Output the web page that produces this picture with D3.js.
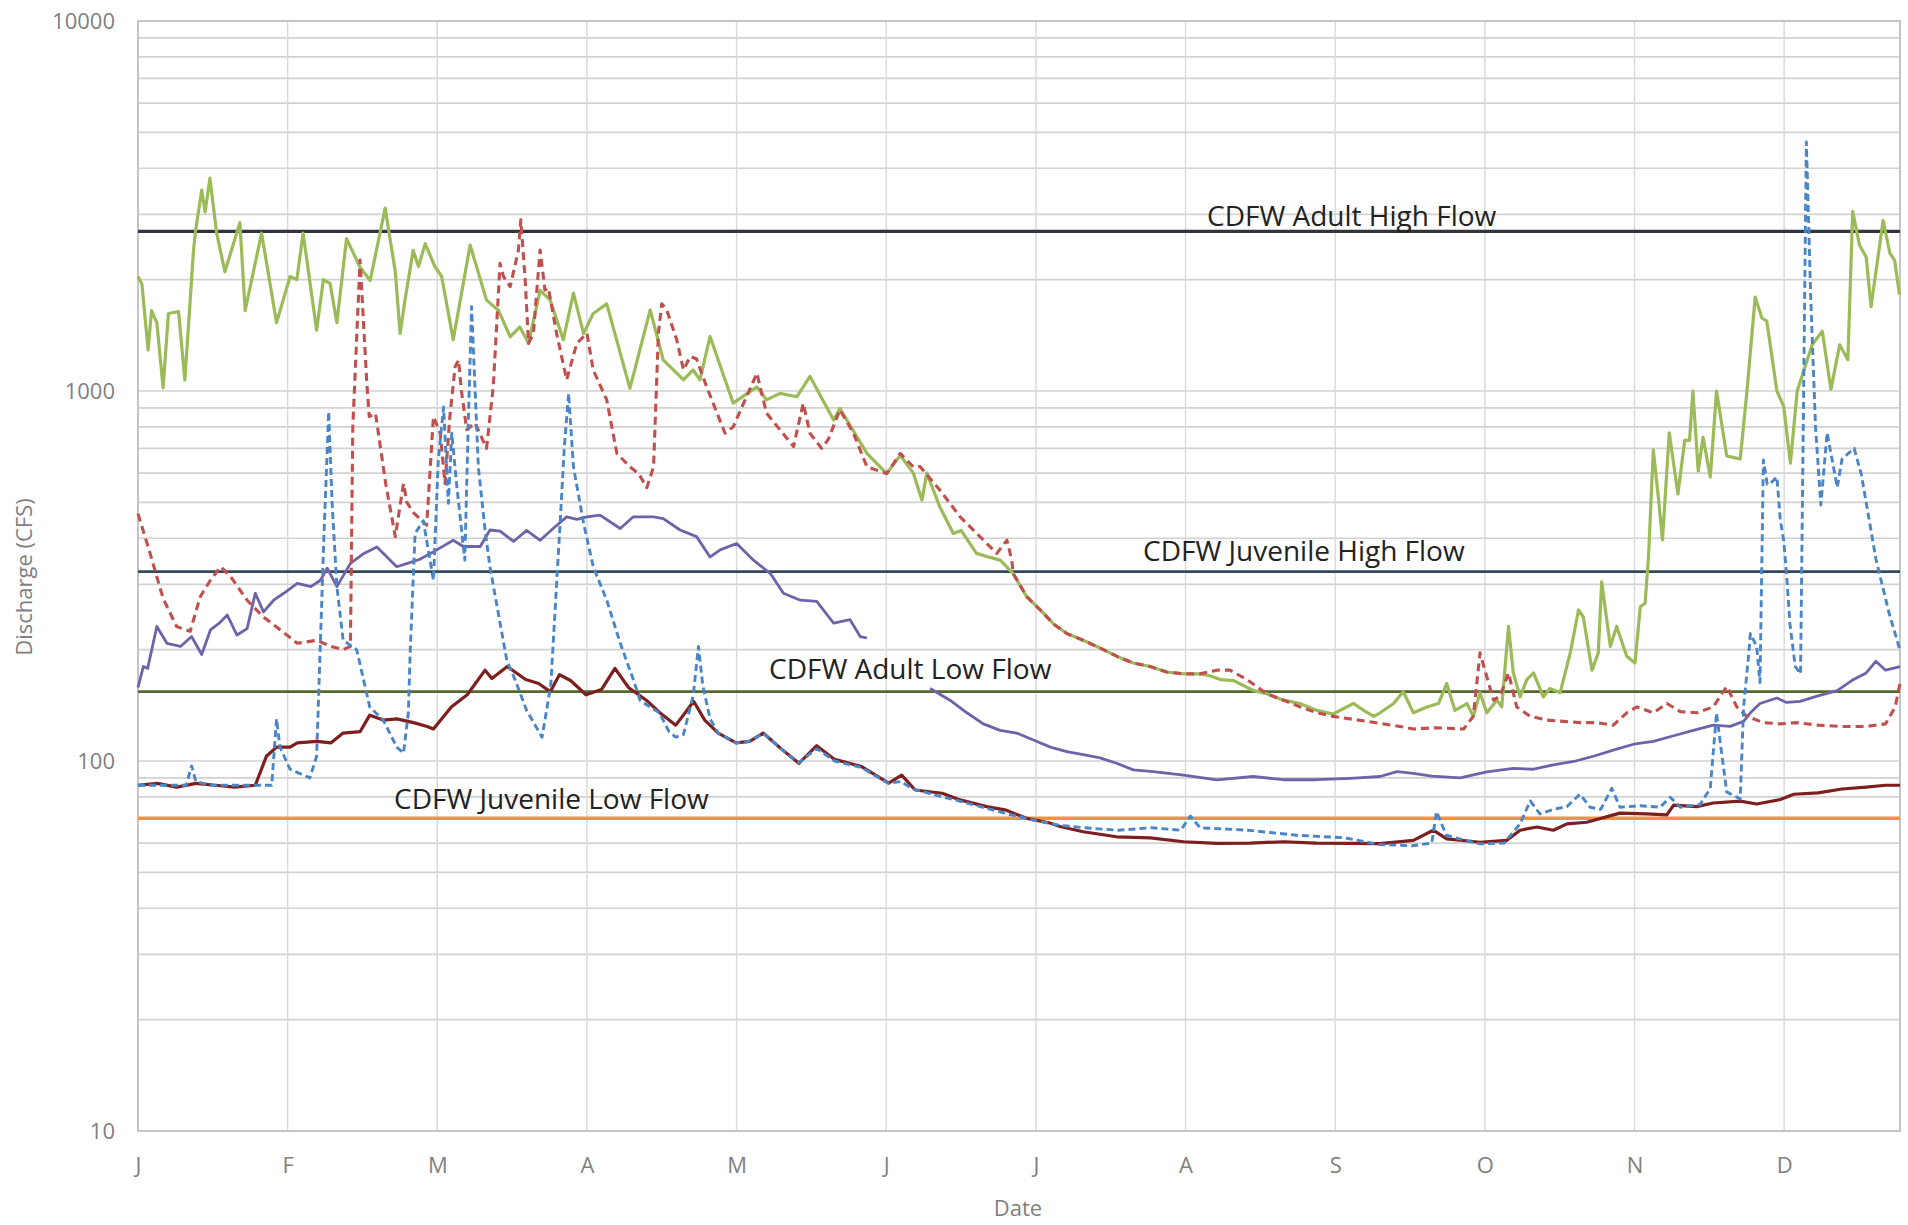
<!DOCTYPE html>
<html>
<head>
<meta charset="utf-8">
<script src="https://cdn.jsdelivr.net/npm/d3@7"></script>
<style>
    body { margin: 0; background: #ffffff; }
    .axis text { font-family: "Open Sans", sans-serif; font-size: 22px; fill: #7f7f7f; }
    .axis .domain { display: none; }
    .title { font-family: "Open Sans", sans-serif; font-size: 22px; fill: #7f7f7f; }
    .flow-label { font-family: "Open Sans", sans-serif; font-size: 28px; fill: #222222; }
</style>
</head>
<body>
<svg id="chart"></svg>
<script>
// month ticks every 31 days, day 0 = Jan 1
var monthLabels = ["J", "F", "M", "A", "M", "J", "J", "A", "S", "O", "N", "D"];
var monthTicks = [0, 31, 62, 93, 124, 155, 186, 217, 248, 279, 310, 341];
var yTickValues = [10, 100, 1000, 10000];

var thresholdNames = ["CDFW Adult High Flow", "CDFW Juvenile High Flow", "CDFW Adult Low Flow", "CDFW Juvenile Low Flow"];
var thresholdFlows = [2700, 325, 154, 70];

// [day, cfs]
var greenFlow = [[0,2040],[0.8,1950],[2.1,1290],[2.8,1650],[3.9,1530],[5.2,1020],[6.3,1620],[8.4,1640],[9.7,1070],
    [11.5,2400],[11.9,2700],[13.2,3490],[13.9,3050],[14.9,3760],[16.3,2670],[18,2100],[21.1,2850],[22.2,1650],
    [25.6,2670],[28.7,1530],[31.5,2040],[32.9,2000],[34.2,2670],[37,1460],[38.4,2000],[39.8,1950],[41.2,1530],
    [43.2,2580],[46,2160],[48.1,1990],[51.2,3120],[53.3,2100],[54.3,1430],[55.3,1760],[57,2400],[58.1,2170],
    [59.5,2500],[61.5,2170],[62.9,2040],[65.3,1375],[68.8,2480],[72.2,1760],[74.7,1650],[77.1,1400],[79.1,1490],
    [80.9,1345],[83.3,1870],[85.4,1760],[88.1,1375],[90.2,1840],[92.3,1430],[94.3,1620],[97.1,1720],[101.9,1016],
    [106.1,1656],[108.8,1213],[113,1072],[115,1140],[116.4,1072],[118.5,1403],[123.3,927],[128.2,1026],[130.2,946],
    [133,985],[136.5,965],[139.2,1095],[144.1,835],[145.4,897],[151,678],[155.1,598],[157.9,670],[160.6,600],
    [162.4,507],[163.4,600],[166.1,486],[168.9,412],[170.5,420],[173.7,364],[176.5,355],[178.6,349],[181.3,321],
    [184.1,278],[186.9,256],[189.6,235],[192.4,221],[195.8,212],[199.3,202],[202.7,192],[206.2,184],[209.7,180],
    [213.1,174],[216.6,172],[220,172],[222,170],[224.2,166],[226.9,165],[231.1,155],[233.8,152],[237.3,146],
    [240.7,143],[244.2,137],[247.6,134],[250.4,140],[251.8,143],[253.9,137],[256,132],[257.3,135],[260.1,143],
    [262.1,154],[264.2,135],[267,140],[269.4,143],[271.1,162],[272.8,137],[275.3,143],[276.6,132],[278,153],
    [279.4,135],[281.5,146],[282.5,140],[283.9,231],[284.9,173],[286.3,149],[287.7,166],[289.1,173],[291.1,149],
    [292.5,157],[294.6,153],[296.7,196],[298.4,256],[299.4,245],[301.2,176],[302.5,196],[303.2,305],[305,204],
    [306.3,231],[308.4,192],[310.1,184],[311.2,261],[312.2,267],[312.9,356],[313.9,693],[315,507],[315.8,396],
    [317.2,771],[319,527],[320.4,735],[321.4,735],[322.1,1000],[323.2,608],[324.2,750],[325.7,585],[327,1000],
    [329.1,668],[331.9,655],[333.3,1000],[335,1795],[336.4,1575],[337.4,1545],[339.5,1000],[340.9,910],[342.3,638],
    [343.7,1000],[346.8,1333],[348.9,1450],[350.7,1010],[352.5,1333],[354.2,1215],[355.2,3060],[356.6,2480],
    [358,2300],[359,1690],[361.5,2890],[362.9,2360],[363.9,2250],[364.9,1820]];

var redFlow = [[0,466],[2.5,364],[5.2,275],[8,231],[10.8,224],[12.9,278],[15,308],[17.1,335],[19.2,315],[22.6,272],
    [26,245],[29.5,226],[33,208],[37.1,212],[39.9,204],[42.5,200],[44,204],[44.5,800],[46,2260],[47.4,1050],
    [47.9,853],[49.2,870],[51.3,563],[53.3,404],[55,562],[55.7,500],[57,470],[59.8,434],[61.2,853],[62.6,769],
    [63.6,562],[64.6,853],[65.7,1164],[66.4,1212],[67,1000],[68.1,786],[69.8,820],[72.2,700],[73.6,1030],
    [75,2213],[75.7,2040],[77.1,1914],[78.8,2400],[79.3,2900],[80.2,2000],[80.9,1345],[81.9,1432],[83.3,2405],
    [84.3,1874],[85,1900],[86.7,1432],[88.8,1072],[90.9,1345],[93,1432],[94.3,1140],[97.1,946],[99.2,678],
    [101.9,624],[103.7,598],[105.4,548],[106.8,624],[107.8,1432],[108.5,1720],[109.5,1660],[111.6,1375],[113,1140],
    [114.4,1240],[115.7,1220],[117.8,1026],[121.6,769],[123.3,800],[128.2,1117],[130.2,871],[135.8,708],[137.8,927],
    [139.2,769],[141.6,700],[143,740],[145.4,890],[148.2,769],[151,624],[155.1,598],[157.9,678],[160.6,624],
    [162,625],[166.1,540],[170.3,457],[174.4,404],[177.9,364],[180,395],[181,349],[181.3,321],[184.1,278],
    [186.9,256],[189.6,235],[192.4,221],[195.8,212],[199.3,202],[202.7,192],[206.2,184],[209.7,180],[213.1,174],
    [216.6,172],[220,172],[223.5,176],[226.2,176],[229.7,166],[233.8,152],[237.3,146],[240.7,140],[244.2,135],
    [247.6,132],[254.5,128],[261.4,124],[264.2,122],[269,123],[274.6,122],[276.6,132],[278,196],[279.4,169],
    [280.8,146],[282.2,150],[283.9,173],[285.6,140],[288.4,132],[291.8,129],[295.3,128],[298.7,127],[302.2,127],
    [305.6,125],[308.4,135],[310.5,140],[313.9,135],[316.7,143],[319.5,136],[322.9,135],[326.3,140],[329.1,159],
    [331.2,140],[333.3,132],[336.7,127],[340.2,126],[343.6,127],[348,125],[353,124],[358,124],[362,126],[364,140],
    [365,162]];

var blueFlow = [[0,86],[5,86],[10,86],[11.1,97],[12,88],[15,86],[20,86],[24.6,86],[27.7,86],[28.7,130],[29.4,109],
    [31.5,95],[35.6,90],[37,103],[38.5,400],[39.5,880],[40.2,500],[41.2,296],[42.5,212],[45.3,200],[48,140],
    [50.8,129],[53.6,109],[55,105],[56,135],[56.4,200],[57.4,412],[59.1,446],[60,380],[61.2,308],[62.2,650],
    [63.3,905],[64.3,497],[65,769],[66,560],[67.7,349],[68.4,800],[69.1,1690],[70.5,624],[71.9,420],[72.9,335],
    [76.4,187],[78.1,166],[80.5,137],[83.7,116],[85.5,160],[87.4,430],[88.3,700],[89.2,986],[90.2,624],[92.3,439],
    [94.3,335],[97.1,272],[99.9,208],[102.6,166],[104,146],[106,140],[108,135],[110,120],[111.4,116],[113,118],
    [115,150],[116.1,204],[117,160],[118.5,130],[120.2,119],[123.9,112],[126.7,113],[129.5,119],[133.2,108],
    [136.9,99],[140.6,108],[144.3,100],[149.9,96],[155.5,87],[158,88],[160.6,84],[165,81],[170,78],[175,75],
    [180,72],[186,69],[191,67],[196,66],[203,65],[210,66],[216,65],[218,71],[220,66],[230,65],[240,63],[250,62],
    [257,59.5],[264,59],[268,60],[269,73],[271,63],[275,61],[278,59.7],[283,60],[286.3,67.6],[288.4,78],
    [290.4,72],[293.2,74],[296,75.3],[298.7,81.3],[300.8,75],[303,74],[305.3,84.4],[307,75],[311.2,75.7],
    [315.3,75],[317.4,79.8],[319.5,75],[323.6,76.3],[325.7,84.4],[327,135],[327.7,114],[329.1,82.5],[331.9,79],
    [332.6,140],[333.6,191],[334,221],[335.3,204],[336,163],[336.7,651],[337.5,560],[338.1,562],[339.5,586],
    [340.2,448],[340.9,395],[341.5,320],[342.2,235],[343.3,180],[344.4,172],[345.6,4710],[346.5,1800],[347.5,800],
    [348.6,492],[349.9,771],[352,549],[353,655],[355.5,700],[357,594],[360,352],[362.7,252],[365,199]];

// null marks the June gap in this record
var purpleFlow = [[0,158],[1.1,180],[2,178],[3.9,231],[6,208],[8.8,204],[11.1,217],[13.2,194],[15,226],[16.7,235],
    [18.5,248],[20.5,219],[22.6,228],[24.3,284],[26,253],[28.1,272],[30.2,284],[33,302],[35.8,296],[37.8,308],
    [39.2,332],[41.2,296],[44,342],[46.8,364],[49.5,379],[53.6,335],[55.8,342],[58.4,351],[61.9,372],[65.3,395],
    [67.4,380],[70.9,380],[72.9,421],[75,418],[77.8,392],[80.5,420],[83.3,395],[86,425],[88.8,457],[90.9,450],
    [93,457],[95.7,462],[99.9,425],[102.6,457],[106.8,457],[108.8,452],[112.3,421],[115.7,404],[118.5,356],
    [120.6,372],[124,387],[127.5,349],[131,321],[133.7,284],[137.2,272],[140.6,270],[144.1,236],[147.5,241],
    [149.6,217],[151,215],[157,null],[164.1,157],[168.2,146],[171.7,135],[175.1,126],[178.6,121],[182,119],
    [185.5,114],[189,109],[192.4,106],[195.8,104],[199.3,102],[202.7,98.6],[206.2,94.6],[210.3,93.6],[216.6,91.6],
    [223.5,88.9],[231,90.8],[237.3,89],[244.2,89],[251.1,89.8],[257.3,90.8],[260.8,93.6],[264.2,92.6],[268,91],
    [273.9,90],[279.4,93.5],[284.9,95.5],[289.1,95],[293.2,97.6],[297.4,99.7],[301.5,103],[305.6,107],[309.8,111],
    [313.9,113],[318.1,117],[322.2,121],[326.3,125],[329.8,124],[332.6,128],[334,135],[336,143],[339.5,148],
    [341.5,144],[344.3,145],[348,150],[352,155],[355,165],[358,173],[360,186],[362,176],[365,180]];

var maroonFlow = [[0,86],[4,87],[8,85],[12,87],[16,86],[20,85],[24.3,86],[26.6,103],[28.7,109],[31.5,109],[33,112],
    [37,113],[40,112],[42.5,119],[46,120],[48,133],[50.8,129],[53.6,130],[57.1,127],[59.9,124],[61.2,122],
    [64.9,140],[68.2,151],[71.9,176],[73.3,167],[76.5,180],[80.3,166],[83,162],[85.4,154],[87.3,171],[89.6,165],
    [92.8,151],[96,156],[98.8,178],[101.6,158],[105.3,146],[108.1,135],[111.4,125],[113.7,137],[115.1,145],
    [117.4,129],[120.2,119],[123.9,112],[126.7,113],[129.5,119],[133.2,108],[136.9,98.6],[140.6,110],[144.3,101],
    [149.9,96.6],[155.5,87.1],[158.2,91.6],[161,83.5],[166.6,81.8],[170.3,78.5],[175.8,75.3],[179.6,73.8],
    [184.1,70],[188.9,68],[191,66.5],[195.8,64.4],[202.7,62.4],[209.7,62],[216.6,60.5],[223.5,59.9],[230.4,60],
    [237.3,60.5],[244,60],[251.1,59.9],[257.3,59.8],[264.2,61],[268.3,65],[271.1,61.6],[278,60.3],[283.5,61],
    [286.3,65],[289.8,66.3],[293.2,65],[296,67.6],[300.1,68.3],[307,72.3],[312.5,72],[316.7,71.5],[318.1,76],
    [322.9,75.3],[326.3,77],[331.9,77.9],[335.3,76.5],[340.2,78.7],[343,81.3],[348,82],[353,84],[358,85],
    [362,86],[365,86]];

function dischargeChart() {
    var width = 1908,
        height = 1225,
        xlabel = "Date",
        ylabel = "Discharge (CFS)";

    function chart(selection) {
        selection.each(function() {
            var margin = {top: 21, right: 8, bottom: 94, left: 138},
                innerwidth = width - margin.left - margin.right,
                innerheight = height - margin.top - margin.bottom;

            var xScale = d3.scaleLinear()
                .domain([0, 365])
                .range([0, innerwidth]);
            var yScale = d3.scaleLog()
                .domain([10, 10000])
                .range([innerheight, 0]);

            var svg = d3.select(this)
                .attr("width", width)
                .attr("height", height);

            svg.append("rect")
                .attr("width", width)
                .attr("height", height)
                .attr("fill", "#ffffff");

            var g = svg.append("g")
                .attr("transform", "translate(" + margin.left + "," + margin.top + ")");

            // grid
            g.append("g").selectAll("line")
                .data(yScale.ticks())
                .enter().append("line")
                .attr("x1", 0)
                .attr("x2", innerwidth)
                .attr("y1", function(d) { return yScale(d); })
                .attr("y2", function(d) { return yScale(d); })
                .attr("stroke", "#d2d2d2")
                .attr("stroke-width", 1.7);

            g.append("g").selectAll("line")
                .data(monthTicks.slice(1))
                .enter().append("line")
                .attr("x1", function(d) { return xScale(d); })
                .attr("x2", function(d) { return xScale(d); })
                .attr("y1", 0)
                .attr("y2", innerheight)
                .attr("stroke", "#d9d9d9")
                .attr("stroke-width", 1.4);

            // plot frame
            g.append("rect")
                .attr("width", innerwidth)
                .attr("height", innerheight)
                .attr("fill", "none")
                .attr("stroke", "#c4c4c4")
                .attr("stroke-width", 2);

            var x = d3.axisBottom(xScale)
                    .tickValues(monthTicks)
                    .tickSize(0)
                    .tickPadding(26)
                    .tickFormat(function(d, i) { return monthLabels[i]; }),
                y = d3.axisLeft(yScale)
                    .tickValues(yTickValues)
                    .tickSize(0)
                    .tickPadding(23)
                    .tickFormat(d3.format("d"));

            g.append("g")
                .attr("class", "x axis")
                .attr("transform", "translate(0," + innerheight + ")")
                .call(x);

            g.append("g")
                .attr("class", "y axis")
                .call(y);

            svg.append("text")
                .attr("class", "title")
                .attr("x", 1018)
                .attr("y", 1216)
                .style("text-anchor", "middle")
                .text(xlabel);

            svg.append("text")
                .attr("class", "title")
                .attr("transform", "translate(32,577) rotate(-90)")
                .style("text-anchor", "middle")
                .text(ylabel);

            // threshold lines
            var thresholdColors = ["#30343f", "#33485a", "#55672b", "#f4923f"],
                thresholdWidths = [3.4, 2.6, 2.6, 3.6];

            g.append("g").selectAll("line")
                .data(thresholdFlows)
                .enter().append("line")
                .attr("x1", 0)
                .attr("x2", innerwidth)
                .attr("y1", function(d) { return yScale(d); })
                .attr("y2", function(d) { return yScale(d); })
                .attr("stroke", function(d, i) { return thresholdColors[i]; })
                .attr("stroke-width", function(d, i) { return thresholdWidths[i]; });

            var line = d3.line()
                .defined(function(d) { return d[1] != null; })
                .x(function(d) { return xScale(d[0]); })
                .y(function(d) { return yScale(d[1]); });

            var series = [
                {values: maroonFlow, color: "#7d1f1f", width: 3.2, dash: null},
                {values: purpleFlow, color: "#6f62a8", width: 2.8, dash: null},
                {values: greenFlow, color: "#9bbb59", width: 3.2, dash: null},
                {values: redFlow, color: "#c0504d", width: 3.1, dash: "8,5"},
                {values: blueFlow, color: "#4a86c5", width: 2.9, dash: "7,4"}
            ];

            g.append("g").selectAll("path")
                .data(series)
                .enter().append("path")
                .attr("fill", "none")
                .attr("stroke", function(d) { return d.color; })
                .attr("stroke-width", function(d) { return d.width; })
                .attr("stroke-dasharray", function(d) { return d.dash; })
                .attr("stroke-linejoin", "round")
                .attr("d", function(d) { return line(d.values); });

            // labels sit just above their lines
            var labelStart = [1207, 1143, 769, 394],
                labelRise = [5, 11, 13, 9];

            svg.append("g").selectAll("text")
                .data(thresholdNames)
                .enter().append("text")
                .attr("class", "flow-label")
                .attr("x", function(d, i) { return labelStart[i]; })
                .attr("y", function(d, i) { return margin.top + yScale(thresholdFlows[i]) - labelRise[i]; })
                .text(function(d) { return d; });
        });
    }

    chart.width = function(value) {
        if (!arguments.length) return width;
        width = value;
        return chart;
    };

    chart.height = function(value) {
        if (!arguments.length) return height;
        height = value;
        return chart;
    };

    return chart;
}

d3.select("#chart").call(dischargeChart());
</script>
</body>
</html>
